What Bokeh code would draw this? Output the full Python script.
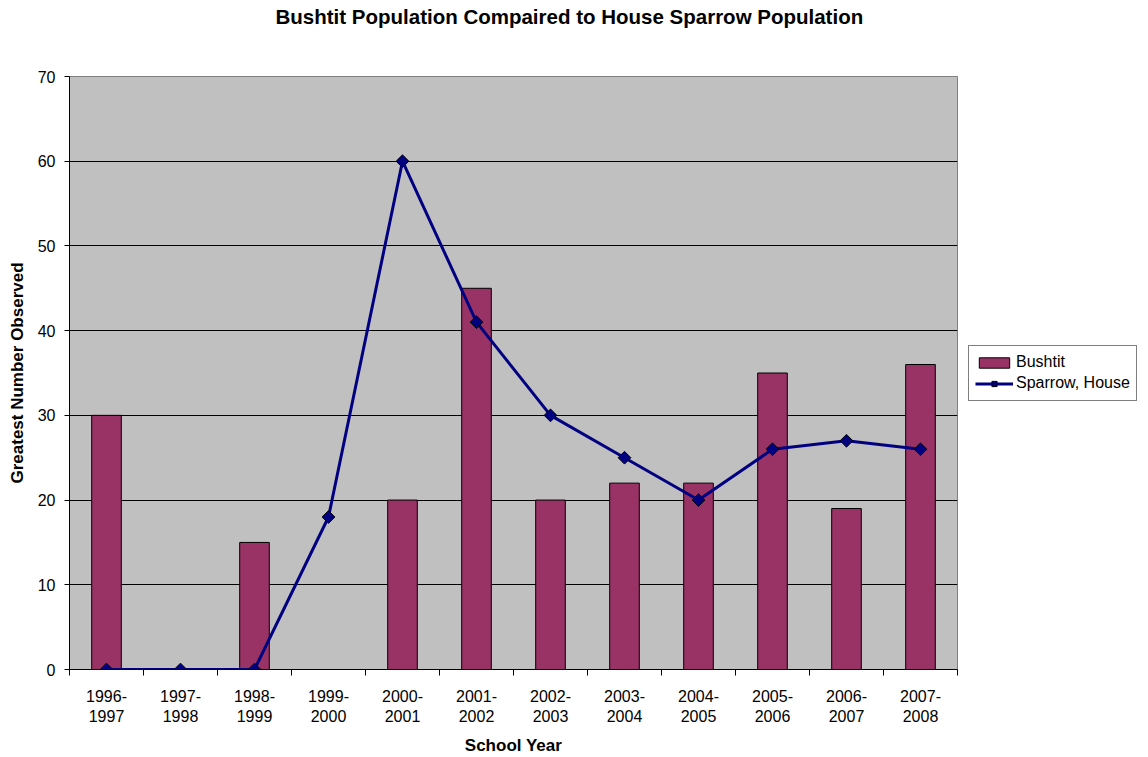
import math
from bokeh.plotting import figure
from bokeh.models import FixedTicker, Range1d, Legend, LegendItem, ColumnDataSource, Title
from bokeh.embed import file_html
from bokeh.resources import INLINE

# ---- data ----
years = ["1996-\n1997", "1997-\n1998", "1998-\n1999", "1999-\n2000", "2000-\n2001", "2001-\n2002",
         "2002-\n2003", "2003-\n2004", "2004-\n2005", "2005-\n2006", "2006-\n2007", "2007-\n2008"]
bushtit = [30, 0, 15, 0, 20, 45, 20, 22, 22, 35, 19, 36]
sparrow = [0, 0, 0, 18, 60, 41, 30, 25, 20, 26, 27, 26]
y_ticks = [0, 10, 20, 30, 40, 50, 60, 70]
title_text = "Bushtit Population Compaired to House Sparrow Population"

FONT = "Liberation Sans"
n = len(years)
centers = [i + 0.5 for i in range(n)]
src = ColumnDataSource(dict(x=centers, bushtit=bushtit, sparrow=sparrow))

p = figure(frame_width=888, frame_height=593, output_backend="svg", toolbar_location=None,
           x_range=Range1d(0, n), y_range=Range1d(0, 70),
           min_border_left=69, min_border_right=191, min_border_top=76, min_border_bottom=88)
p.title.text = ""

# spacer between frame and title (innermost), then the real title (outermost)
p.add_layout(Title(text=" ", text_font_size="10px", standoff=36), "above")
p.add_layout(Title(text=title_text, align="left", offset=206, vertical_align="bottom",
                   text_font=FONT, text_font_size="20.5px", text_font_style="bold",
                   text_color="black", standoff=0), "above")

p.background_fill_color = "#C0C0C0"
p.border_fill_color = "white"
p.outline_line_color = "#808080"
p.outline_line_width = 1

bars = p.vbar(x="x", top="bushtit", width=0.4, source=src, fill_color="#993366",
              line_color="black", line_width=1)
ln = p.line(x="x", y="sparrow", source=src, line_color="#000080", line_width=3)
pts = p.scatter(x="x", y="sparrow", source=src, marker="square", angle=math.pi / 4, size=9,
                fill_color="#000080", line_color="black", line_width=1)

# x axis: labels at category centers, ticks at boundaries (minor)
xa = p.xaxis[0]
xa.ticker = FixedTicker(ticks=centers, minor_ticks=list(range(n + 1)))
xa.major_label_overrides = {c: lab for c, lab in zip(centers, years)}
xa.major_tick_out = 0
xa.major_tick_in = 0
xa.minor_tick_out = 6
xa.minor_tick_in = 0
xa.minor_tick_line_color = "black"
xa.axis_line_color = "black"
xa.major_label_text_font = FONT
xa.major_label_text_font_size = "16px"
xa.major_label_text_color = "black"
xa.major_label_standoff = 12
xa.axis_label = "School Year"
xa.axis_label_text_font = FONT
xa.axis_label_text_font_size = "17px"
xa.axis_label_text_font_style = "bold"
xa.axis_label_text_color = "black"
xa.axis_label_standoff = 8

ya = p.yaxis[0]
ya.ticker = FixedTicker(ticks=y_ticks)
ya.major_tick_out = 5
ya.major_tick_in = 0
ya.minor_tick_out = 0
ya.minor_tick_in = 0
ya.axis_line_color = "black"
ya.major_tick_line_color = "black"
ya.major_label_text_font = FONT
ya.major_label_text_font_size = "16px"
ya.major_label_text_color = "black"
ya.major_label_standoff = 9
ya.axis_label = "Greatest Number Observed"
ya.axis_label_text_font = FONT
ya.axis_label_text_font_size = "17px"
ya.axis_label_text_font_style = "bold"
ya.axis_label_text_color = "black"
ya.axis_label_standoff = 8

p.xgrid.visible = False
p.ygrid.ticker = FixedTicker(ticks=y_ticks[1:-1])
p.ygrid.grid_line_color = "black"
p.ygrid.grid_line_width = 1

legend = Legend(items=[LegendItem(label="Bushtit", renderers=[bars]),
                       LegendItem(label="Sparrow, House", renderers=[ln, pts])],
                location="center_left", orientation="vertical")
legend.label_text_font = FONT
legend.label_text_font_size = "16px"
legend.label_text_color = "black"
legend.glyph_width = 38
legend.glyph_height = 13
legend.label_standoff = 3
legend.label_height = 21
legend.spacing = 0
legend.padding = 6
legend.margin = 11
legend.border_line_color = "black"
legend.border_line_width = 1
legend.background_fill_color = "white"
legend.background_fill_alpha = 1
p.add_layout(legend, "right")

open("out.html", "w").write(file_html(p, INLINE))
